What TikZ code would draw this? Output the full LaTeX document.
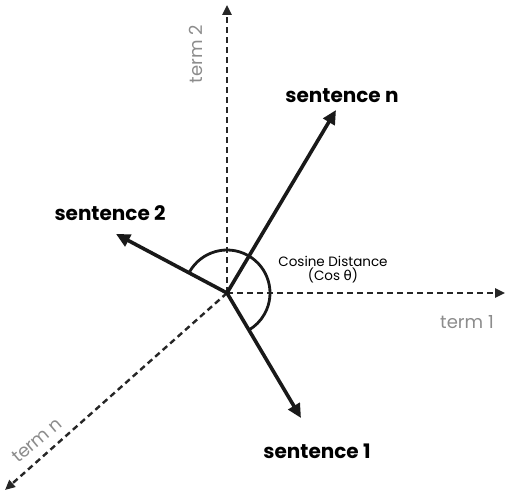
\documentclass[tikz,border=0pt]{standalone}
\usepackage{fontspec}
\setmainfont{Poppins}
\newfontfamily\symfont{DejaVu Sans}
\usetikzlibrary{arrows.meta}
\begin{document}
\begin{tikzpicture}[x=1pt,y=-1pt,
  axis/.style={draw=black!85,line width=2.4pt,dash pattern=on 6pt off 4pt,-{Triangle[length=10pt,width=9pt]}},
  vec/.style={draw=black!90,line width=3.6pt,-{Triangle[length=14pt,width=13pt]}},
  anglearc/.style={draw=black!90,line width=2.8pt},
  sent/.style={font=\fontsize{20}{22}\selectfont\bfseries,inner sep=0pt},
  term/.style={font=\fontsize{18}{20}\selectfont,text=black!45,inner sep=0pt},
  cosl/.style={font=\fontsize{13.5}{14}\selectfont,inner sep=0pt,align=center,text=black}]
\useasboundingbox (0,0) rectangle (508,495);
\coordinate (o) at (227,293);
\coordinate (t1) at (505,293);
\coordinate (t2) at (227,5);
\coordinate (tn) at (5,490);
\coordinate (sn) at (336,110);
\coordinate (s2) at (116,234);
\coordinate (s1) at (301,418);
\draw[axis] (o) -- (t1);
\draw[axis] (o) -- (t2);
\draw[axis] (o) -- (tn);
\draw[anglearc] (o) ++(-151:43) arc[start angle=-151,end angle=60,radius=43];
\draw[vec] (o) -- (sn);
\draw[vec] (o) -- (s2);
\draw[vec] (o) -- (s1);
\node[sent] (lsn) at (342,96) {sentence n};
\node[sent] (ls2) at (110,213) {sentence 2};
\node[sent] (ls1) at (317,451) {sentence 1};
\node[cosl] (lcos) at (333,270) {Cosine Distance\\(Cos {\symfont θ})};
\node[term,rotate=90] (lt2) at (196,54) {term 2};
\node[term] (lt1) at (467,322) {term 1};
\node[term,rotate=40] (ltn) at (37,440) {term n};
\end{tikzpicture}
\end{document}
